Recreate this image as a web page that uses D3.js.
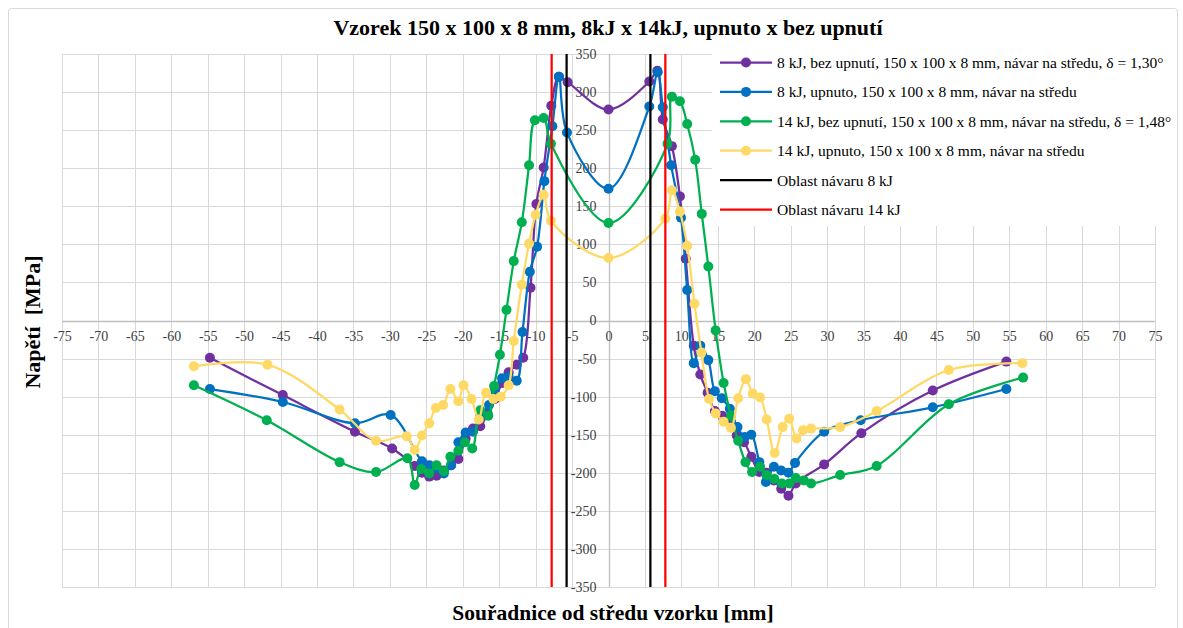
<!DOCTYPE html>
<html><head><meta charset="utf-8">
<script src="https://cdn.jsdelivr.net/npm/d3@7"></script>
<style>body{margin:0;background:#fff;} svg{display:block;font-family:"Liberation Serif","Times New Roman",serif;}</style>
</head><body>
<svg id="c" width="1183" height="628"></svg>
<script>
// ---- data ----
const seriesNames = [
  "8 kJ, bez upnutí, 150 x 100 x 8 mm, návar na středu, δ = 1,30°",
  "8 kJ, upnuto, 150 x 100 x 8 mm, návar na středu",
  "14 kJ, bez upnutí, 150 x 100 x 8 mm, návar na středu, δ = 1,48°",
  "14 kJ, upnuto, 150 x 100 x 8 mm, návar na středu",
  "Oblast návaru 8 kJ",
  "Oblast návaru 14 kJ"
];
const seriesColors = ["#7030a0", "#0070c0", "#00b050", "#ffd966", "#000000", "#ff0000"];

const bez8X = [-54.7,-44.7,-34.8,-29.7,-26.6,-25.6,-24.6,-23.6,-22.6,-21.6,-20.6,-19.6,-18.6,-17.6,-16.6,-15.6,-14.6,-13.7,-12.6,-11.7,-10.7,-9.9,-8.9,-7.85,-6.8,-5.6,0,5.6,6.7,7.45,8.7,9.8,10.6,11.7,12.6,13.6,14.6,15.6,16.6,17.6,18.6,19.6,20.7,21.7,22.7,23.7,24.7,25.7,29.6,34.7,44.5,54.6];
const bez8Y = [-49,-98,-146,-168,-191,-200,-205,-204,-197,-190,-182,-155,-142,-139,-122,-103,-82,-68,-58,-49,43,153,201,282,320,313,277,314,328,264,229,163,81,-33,-71,-95,-119,-125,-128,-151,-160,-179,-199,-200,-210,-221,-230,-214,-189,-148,-92,-54];

const upn8X = [-54.7,-44.7,-34.8,-29.9,-25.6,-24.6,-23.6,-22.6,-21.6,-20.6,-19.6,-18.6,-17.6,-16.4,-15.6,-14.6,-13.7,-12.6,-11.8,-10.8,-9.8,-8.8,-7.7,-6.8,-5.7,0,5.6,6.75,7.45,8.6,9.95,10.8,11.7,12.6,13.7,14.6,15.55,16.65,17.7,18.7,19.6,20.7,21.6,22.7,23.7,24.7,25.6,29.6,34.6,44.5,54.6];
const upn8Y = [-90,-107,-135,-124,-185,-190,-194,-201,-190,-160,-147,-146,-125,-111,-92,-76,-74,-79,-15,64,97,183,255,320,247,173,281,326,280,204,135,40,-56,-33,-52,-93,-102,-116,-140,-153,-150,-186,-212,-192,-197,-200,-187,-146,-131,-114,-90];

const bez14X = [-56.9,-46.9,-36.9,-31.9,-27.6,-26.6,-25.7,-24.6,-23.6,-22.6,-21.7,-20.6,-19.7,-18.7,-17.6,-16.5,-15.7,-14.9,-14,-13,-11.9,-10.9,-10.1,-8.9,-7.9,0,8.1,8.7,9.8,10.8,11.9,12.8,13.7,14.7,15.8,16.8,17.8,18.8,19.7,20.8,21.7,22.75,23.8,24.8,25.7,26.8,27.8,31.8,36.8,46.7,56.9];
const bez14Y = [-85,-131,-186,-199,-181,-216,-195,-201,-190,-198,-179,-171,-160,-168,-118,-125,-86,-45,14,78,129,204,263,266,232,128,232,294,288,258,211,140,71,-13,-82,-125,-158,-186,-199,-192,-203,-208,-214,-214,-207,-210,-214,-203,-191,-110,-75];

const upn14X = [-56.9,-46.8,-36.9,-31.9,-27.7,-26.6,-25.6,-24.6,-23.7,-22.7,-21.7,-20.6,-19.9,-18.8,-17.8,-16.8,-15.8,-14.8,-13.7,-13,-11.9,-10.9,-10,-8.9,-7.9,0,7.8,8.7,9.8,10.8,11.8,12.75,13.8,14.7,15.8,16.8,17.8,18.85,19.8,20.8,21.7,22.8,23.9,24.8,25.8,26.7,27.8,31.8,36.8,46.7,56.8];
const upn14Y = [-60,-58,-117,-158,-152,-170,-151,-135,-115,-111,-90,-106,-85,-103,-130,-95,-103,-100,-85,-27,47,101,139,165,131,82,134,171,143,98,22,-42,-103,-122,-133,-141,-102,-77,-96,-101,-130,-174,-140,-129,-155,-144,-142,-140,-119,-65,-56];

const oblast8X = [-5.75, 5.75];
const oblast14X = [-7.8, 7.8];

const xTicks = d3.range(-75, 76, 5);
const yTicks = d3.range(-350, 351, 50);

const titleText = "Vzorek 150 x 100 x 8 mm, 8kJ x 14kJ, upnuto x bez upnutí";
const xTitle = "Souřadnice od středu vzorku [mm]";
const yTitle = "Napětí  [MPa]";

// ---- chart ----
const svg = d3.select("#c");
const x = d3.scaleLinear().domain([-75, 75]).range([62, 1155]);
const y = d3.scaleLinear().domain([-350, 350]).range([587, 54]);

svg.append("rect").attr("x", 8.5).attr("y", 8.5).attr("width", 1169).attr("height", 640)
  .attr("rx", 3).attr("fill", "#fff").attr("stroke", "#d9d9d9").attr("stroke-width", 1);

// gridlines
const grid = svg.append("g");
grid.selectAll(".vg").data(xTicks).join("line")
  .attr("x1", d => Math.round(x(d)) + 0.5).attr("x2", d => Math.round(x(d)) + 0.5)
  .attr("y1", y(350)).attr("y2", y(-350)).attr("stroke", "#d9d9d9").attr("stroke-width", 1);
grid.selectAll(".hg").data(yTicks).join("line")
  .attr("y1", d => Math.round(y(d)) + 0.5).attr("y2", d => Math.round(y(d)) + 0.5)
  .attr("x1", x(-75)).attr("x2", x(75)).attr("stroke", "#d9d9d9").attr("stroke-width", 1);

// axis lines
svg.append("line").attr("x1", x(-75)).attr("x2", x(75))
  .attr("y1", Math.round(y(0)) + 0.5).attr("y2", Math.round(y(0)) + 0.5).attr("stroke", "#bfbfbf").attr("stroke-width", 1.3);
svg.append("line").attr("y1", y(350)).attr("y2", y(-350))
  .attr("x1", Math.round(x(0)) + 0.5).attr("x2", Math.round(x(0)) + 0.5).attr("stroke", "#bfbfbf").attr("stroke-width", 1.3);

// axes labels via d3 axes
const xAxis = svg.append("g").attr("transform", `translate(0,${y(0)})`)
  .call(d3.axisBottom(x).tickValues(xTicks).tickSize(0).tickPadding(11).tickFormat(d => String(d)));
const yAxis = svg.append("g").attr("transform", `translate(${x(0)},0)`)
  .call(d3.axisLeft(y).tickValues(yTicks).tickSize(0).tickPadding(12).tickFormat(d => String(d)));
[xAxis, yAxis].forEach(a => {
  a.select(".domain").remove();
  a.selectAll("text").attr("font-family", "Liberation Serif").attr("font-size", 14).attr("fill", "#404040");
});

// series
const series = [
  {X: bez8X, Y: bez8Y},
  {X: upn8X, Y: upn8Y},
  {X: bez14X, Y: bez14Y},
  {X: upn14X, Y: upn14Y}
];
const line = d3.line().x(d => x(d[0])).y(d => y(d[1])).curve(d3.curveCatmullRom.alpha(0.5));
series.forEach((s, i) => {
  const pts = s.X.map((v, k) => [v, s.Y[k]]);
  const g = svg.append("g");
  g.append("path").attr("d", line(pts)).attr("fill", "none")
    .attr("stroke", seriesColors[i]).attr("stroke-width", 2.25).attr("stroke-linejoin", "round");
  g.selectAll("circle").data(pts).join("circle")
    .attr("cx", d => x(d[0])).attr("cy", d => y(d[1])).attr("r", 5).attr("fill", seriesColors[i]);
});

// region lines
[[oblast8X, 4], [oblast14X, 5]].forEach(([arr, ci]) => {
  svg.append("g").selectAll("line").data(arr).join("line")
    .attr("x1", d => x(d)).attr("x2", d => x(d)).attr("y1", y(350)).attr("y2", y(-350))
    .attr("stroke", seriesColors[ci]).attr("stroke-width", 2.25);
});

// legend
const lg = svg.append("g");
lg.append("rect").attr("x", 712).attr("y", 46).attr("width", 460).attr("height", 180).attr("fill", "#fff");
seriesNames.forEach((name, i) => {
  const yy = 62.5 + i * 29.4;
  lg.append("line").attr("x1", 720).attr("x2", 772).attr("y1", yy).attr("y2", yy)
    .attr("stroke", seriesColors[i]).attr("stroke-width", 2.25);
  if (i < 4) lg.append("circle").attr("cx", 746).attr("cy", yy).attr("r", 5).attr("fill", seriesColors[i]);
  lg.append("text").attr("x", 777).attr("y", yy).attr("dy", "0.35em")
    .attr("font-size", 15.5).attr("fill", "#000").text(name);
});

// titles
svg.append("text").attr("x", 608).attr("y", 35).attr("text-anchor", "middle")
  .attr("font-size", 22).attr("font-weight", "bold").attr("fill", "#000").text(titleText);
svg.append("text").attr("x", 613).attr("y", 620).attr("text-anchor", "middle")
  .attr("font-size", 21.5).attr("font-weight", "bold").attr("fill", "#000").text(xTitle);
svg.append("text").attr("transform", "translate(40,322) rotate(-90)").attr("text-anchor", "middle")
  .attr("font-size", 22).attr("font-weight", "bold").attr("fill", "#000").style("white-space", "pre").text(yTitle);
</script>
</body></html>
